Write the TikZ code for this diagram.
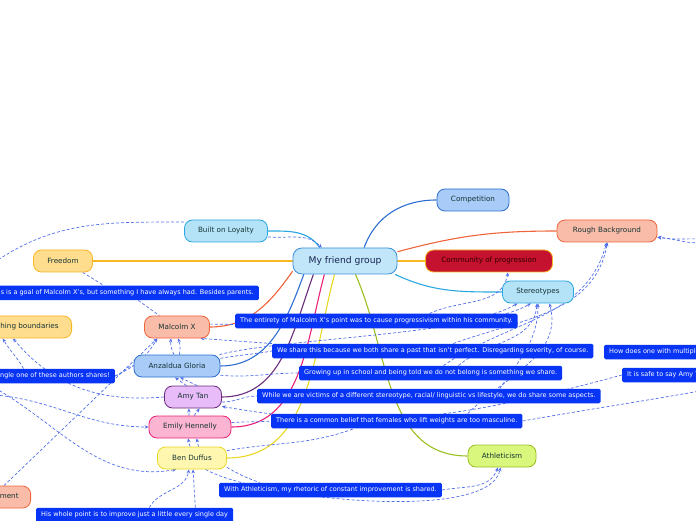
\documentclass[tikz,border=0pt]{standalone}
\usepackage{fontspec}
\setmainfont{DejaVu Sans}
\usetikzlibrary{arrows.meta, backgrounds}

\definecolor{relblue}{RGB}{80,110,235}
\definecolor{notebg}{RGB}{8,52,246}
\definecolor{topictext}{RGB}{22,52,52}
\definecolor{grouptext}{RGB}{22,34,80}
\definecolor{groupbg}{RGB}{193,230,249}
\definecolor{cgroup}{RGB}{58,143,217}
\definecolor{cloyal}{RGB}{42,167,224}
\definecolor{loyalbg}{RGB}{180,227,248}
\definecolor{cfreedom}{RGB}{248,182,35}
\definecolor{freedombg}{RGB}{254,221,142}
\definecolor{ccomp}{RGB}{44,111,208}
\definecolor{compbg}{RGB}{168,203,247}
\definecolor{crough}{RGB}{240,100,58}
\definecolor{roughbg}{RGB}{248,188,169}
\definecolor{progbg}{RGB}{196,18,47}
\definecolor{cath}{RGB}{154,191,31}
\definecolor{athbg}{RGB}{216,247,124}
\definecolor{camy}{RGB}{106,44,125}
\definecolor{amybg}{RGB}{232,188,248}
\definecolor{cemily}{RGB}{234,34,119}
\definecolor{emilybg}{RGB}{251,180,210}
\definecolor{cben}{RGB}{232,216,35}
\definecolor{benbg}{RGB}{255,247,176}

\begin{document}
\begin{tikzpicture}[x=1pt, y=1pt,
    topic/.style={draw, rounded corners=8pt, line width=0.8pt,
      minimum height=22pt, inner xsep=4pt, text=topictext,
      font=\fontsize{7.2}{8}\selectfont},
    note/.style={fill=notebg, rounded corners=1.5pt, minimum height=14.5pt,
      inner xsep=5pt, inner ysep=0pt, text=white,
      font=\fontsize{6.5}{7.5}\selectfont},
    branch/.style={line width=1.1pt},
    rel/.style={draw=relblue, line width=0.7pt, dash pattern=on 3pt off 2pt},
    relto/.style={rel, -{Stealth[length=4pt, width=3.5pt]}}]
  \useasboundingbox (0, 0) rectangle (696, 520);

  \node[topic, fill=groupbg, draw=cgroup, minimum width=104pt,
    minimum height=26pt, rounded corners=9pt, text=grouptext,
    font=\fontsize{9.2}{10}\selectfont] at (345, 259) (fg)
    {My friend group};
  \node[topic, fill=loyalbg, draw=cloyal, minimum width=83pt] at (226, 289) (bl)
    {Built on Loyalty};
  \node[topic, fill=freedombg, draw=cfreedom, minimum width=59pt] at (63, 259) (fr)
    {Freedom};
  \node[topic, fill=compbg, draw=ccomp, minimum width=72pt] at (473, 320) (cp)
    {Competition};
  \node[topic, fill=roughbg, draw=crough, minimum width=100pt] at (607, 289) (rb)
    {Rough Background};
  \node[topic, fill=progbg, draw=cfreedom, minimum width=127pt,
    text=black!80!red] at (489, 259) (cop)
    {Community of progression};
  \node[topic, fill=loyalbg, draw=cloyal, minimum width=71pt] at (538, 228) (st)
    {Stereotypes};
  \node[topic, fill=athbg, draw=cath, minimum width=68pt] at (502, 64) (at)
    {Athleticism};
  \node[topic, fill=roughbg, draw=crough, minimum width=65pt] at (177, 193) (mx)
    {Malcolm X};
  \node[topic, fill=compbg, draw=ccomp, minimum width=86pt] at (177, 154) (ag)
    {Anzaldua Gloria};
  \node[topic, fill=amybg, draw=camy, minimum width=57pt] at (193, 123) (amy)
    {Amy Tan};
  \node[topic, fill=emilybg, draw=cemily, minimum width=82pt] at (190, 93) (eh)
    {Emily Hennelly};
  \node[topic, fill=benbg, draw=cben, minimum width=69pt] at (192, 62) (bd)
    {Ben Duffus};
  \node[topic, fill=freedombg, draw=cfreedom, anchor=east, inner xsep=13pt]
    at (72, 193) (pb) {Pushing boundaries};
  \node[topic, fill=roughbg, draw=crough, anchor=east, inner xsep=12pt]
    at (31, 23) (im) {Improvement};

  % notes on the relations
  \node[note, anchor=east] at (259, 227) (goal)
    {This is a goal of Malcolm X's, but something I have always had. Besides parents.};
  \node[note, anchor=west] at (235, 199) (entire)
    {The entirety of Malcolm X's point was to cause progressivism within his community.};
  \node[note, anchor=west] at (272, 169) (share)
    {We share this because we both share a past that isn't perfect. Disregarding severity, of course.};
  \node[note, anchor=west] at (299, 147) (grow)
    {Growing up in school and being told we do not belong is something we share.};
  \node[note, anchor=west] at (257, 124) (victim)
    {While we are victims of a different stereotype, racial/ linguistic vs lifestyle, we do share some aspects.};
  \node[note, anchor=west] at (271, 99) (belief)
    {There is a common belief that females who lift weights are too masculine.};
  \node[note, anchor=west] at (219, 30) (athnote)
    {With Athleticism, my rhetoric of constant improvement is shared.};
  \node[note, anchor=west] at (36, 5) (daily)
    {His whole point is to improve just a little every single day};
  \node[note, anchor=east] at (115, 144) (every)
    {Something every single one of these authors shares!};
  \node[note, anchor=west] at (604, 168) (multi)
    {How does one with multiple identities fit in?};
  \node[note, anchor=west] at (622, 145) (safe)
    {It is safe to say Amy Tan knows this.};

  \coordinate (wl) at (-8, 256);
  \coordinate (w2) at (-5, 125);
  \coordinate (w3) at (-5, 132);
  \coordinate (e1) at (700, 129);
  \coordinate (e2) at (700, 277);
  \coordinate (e3) at (700, 281);

  \begin{scope}[on background layer]
    % branches
    \path[branch]
      (fg.west) edge[draw=cfreedom] (fr.east)
      (fg.east) edge[draw=cfreedom] (cop.west)
      (fg.152) edge[draw=cloyal, out=125, in=0] (bl.east)
      (fg.35) edge[draw=ccomp, out=70, in=180] (cp.west)
      (fg.10) edge[draw=crough, out=15, in=180] (rb.west)
      (fg.-15) edge[draw=cloyal, out=-25, in=180] (st.west)
      (fg.-52) edge[draw=cath, out=-66, in=180] (at.west)
      (fg.191) edge[draw=crough, out=235, in=0] (mx.east)
      (fg.198) edge[draw=ccomp, out=250, in=0] (ag.east)
      (fg.203) edge[draw=camy, out=250, in=0] (amy.east)
      (fg.213) edge[draw=cemily, out=255, in=0] (eh.east)
      (fg.232) edge[draw=cben, out=255, in=0] (bd.east);

    % relations
    \path[rel]
      (bl.168) edge[out=180, in=35] (wl)
      (bl.-8) edge[relto, out=-5, in=135] (fg.150)
      (fr.-30) edge (goal.158)
      (goal.-25) edge (mx.147)
      (mx.5) edge[relto, out=0, in=-150, looseness=0.6] (st.-151)
      (entire.8) edge[relto, out=25, in=-100] (cop.-31)
      (ag.10) edge[out=10, in=190] (share.west)
      (share.north west) edge[relto] (mx.-26)
      (share.20) edge[relto, out=20, in=-100] (rb.-88)
      (grow.30) edge[relto, out=35, in=-105] (rb.-92)
      (ag.15) edge[relto, out=15, in=-150, looseness=0.5] (st.-122)
      (ag.-12) edge[out=-5, in=180] (grow.west)
      (grow.15) edge[relto, out=40, in=-95] (st.-95)
      (amy.-10) edge[out=0, in=180] (victim.west)
      (victim.6) edge[relto, out=55, in=-90] (st.-90)
      (eh.6) edge[out=5, in=185] (belief.west)
      (belief.6) edge[relto, out=45, in=-75] (st.-45)
      (bd.12) edge[out=10, in=200] (belief.-170)
      (belief.east) edge[out=10, in=190] (e1)
      (bd.-15) edge[out=-30, in=160] (athnote.174)
      (athnote.east) edge[relto, out=10, in=-110] (at.-110)
      (bd.-40) edge[relto, out=-30, in=-100, looseness=0.5] (at.-98)
      (daily.27) edge[relto, out=60, in=-100] (bd.-105)
      (daily.7) edge[relto] (bd.-85)
      (im.50) edge[relto] (mx.-150)
      (every.east) edge[relto, out=25, in=-120] (mx.-150)
      (every.east) edge[out=15, in=180] (ag.west)
      (every.north) edge[relto, out=120, in=-60] (pb.-151)
      (amy.west) edge[relto, out=185, in=-50] (pb.-132)
      (w2) edge[relto, out=-5, in=180] (eh.west)
      (w3) edge[relto, out=-30, in=190] (bd.-144)
      (safe.west) edge[relto, out=195, in=-10] (amy.-18)
      (e2) edge[relto, out=180, in=-5] (rb.-7)
      (e3) edge[relto, out=178, in=-10] (rb.-7)
      (ag.105) edge[relto, bend left=15] (mx.-118)
      (ag.78) edge[relto, bend right=15] (mx.-85)
      (amy.120) edge[relto] (ag.-100)
      (amy.70) edge[relto] (ag.-75)
      (eh.95) edge[relto] (amy.-110)
      (eh.70) edge[relto] (amy.-60)
      (bd.100) edge[relto] (eh.-100)
      (bd.60) edge[relto] (eh.-60);
  \end{scope}
\end{tikzpicture}
\end{document}
